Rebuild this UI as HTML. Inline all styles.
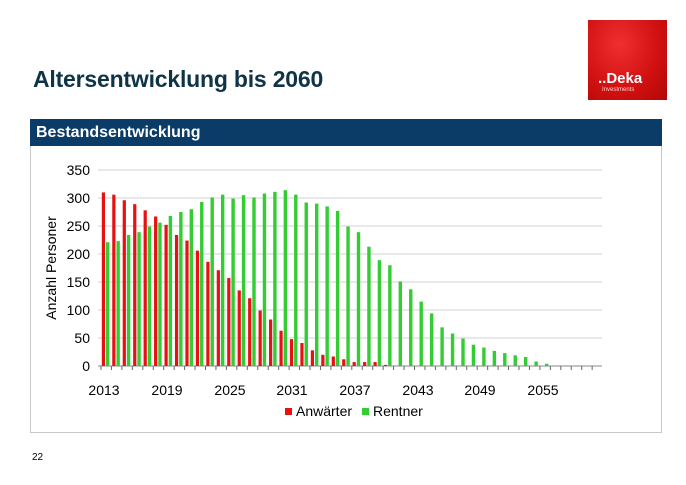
<!DOCTYPE html>
<html><head><meta charset="utf-8"><style>
body{margin:0;width:686px;height:485px;background:#fff;font-family:"Liberation Sans",sans-serif;position:relative;overflow:hidden}
.t{position:absolute;left:33px;top:66px;font-size:23px;font-weight:bold;color:#0f3447;letter-spacing:-0.2px}
.hb{position:absolute;left:30px;top:119px;width:632px;height:27px;background:#0b3c68;color:#fff;font-weight:bold;font-size:16px;line-height:27px;padding-left:6px;box-sizing:border-box}
.box{position:absolute;left:30px;top:146px;width:632px;height:287px;border:1px solid #c8c8c8;border-top:none;box-sizing:border-box}
.logo{position:absolute;left:588px;top:20px;width:79px;height:80px;background:radial-gradient(ellipse at 40% 30%,#f03030,#d01010 60%,#b00808)}
.logo .d{position:absolute;left:10px;top:50px;color:#fff;font-weight:bold;font-size:15px}
.logo .i{position:absolute;left:14px;top:67px;color:#fcc;font-size:6px}
.n{position:absolute;left:32px;top:452px;font-size:10px}
</style></head><body>
<div class="logo"><div class="d">..Deka</div><div class="i">Investments</div></div>
<div class="t">Altersentwicklung bis 2060</div>
<div class="hb">Bestandsentwicklung</div>
<div class="box"></div>
<div class="n">22</div>
<svg id="s" width="686" height="485" style="position:absolute;left:0;top:0" font-family="Liberation Sans, sans-serif">
<g font-size="14" fill="#000" text-anchor="end">
<text x="90" y="371">0</text><text x="90" y="343">50</text><text x="90" y="315">100</text><text x="90" y="287">150</text><text x="90" y="259">200</text><text x="90" y="231">250</text><text x="90" y="203">300</text><text x="90" y="175">350</text>
</g>
<text transform="translate(56,268) rotate(-90)" font-size="14" text-anchor="middle">Anzahl Personer</text>
<g font-size="14" text-anchor="middle">
<text x="104" y="395">2013</text><text x="167" y="395">2019</text><text x="230" y="395">2025</text><text x="292" y="395">2031</text><text x="355" y="395">2037</text><text x="418" y="395">2043</text><text x="480" y="395">2049</text><text x="543" y="395">2055</text>
</g>
<rect x="285" y="408" width="7" height="7" fill="#e81010"/><text x="296" y="416" font-size="14">Anwärter</text>
<rect x="362" y="408" width="7" height="7" fill="#33cc33"/><text x="373" y="416" font-size="14">Rentner</text>
<g id="g"></g>
</svg>
<script>
var R=[310,306,296,289,278,267,252,234,224,206,186,171,157,135,121,99,83,63,48,41,28,20,17,12,7,7,7,2];
var G=[221,223,234,239,249,256,268,275,280,293,301,306,299,305,301,308,311,314,306,292,290,285,277,249,239,213,189,180,151,137,115,94,69,58,49,38,33,27,23,19,16,8,4,1,1,1,0,0];
var h='';
for(var k=0;k<8;k++){var y=170+k*28;h+='<line x1="98" x2="602" y1="'+y+'" y2="'+y+'" stroke="'+(k==7?'#888':'#d0d0d0')+'"/>';}
for(var i=0;i<48;i++){var x=101+i*10.45;
h+='<line x1="'+x+'" x2="'+x+'" y1="366" y2="370" stroke="#666"/>';
var r=R[i]||0;if(r){var hh=r*28/50;h+='<rect x="'+(x+0.8)+'" y="'+(366-hh)+'" width="3.2" height="'+hh+'" fill="#e81010"/>';}
var g=G[i];if(g){var gh=g*28/50;h+='<rect x="'+(x+5)+'" y="'+(366-gh)+'" width="3.4" height="'+gh+'" fill="#33cc33"/>';}}
document.getElementById('g').innerHTML=h;
</script>
</body></html>
